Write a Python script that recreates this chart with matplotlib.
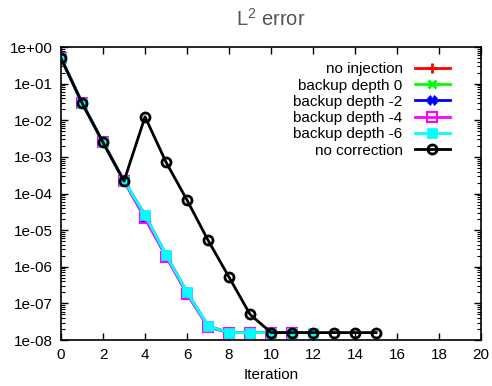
import numpy as np
import matplotlib
matplotlib.use("Agg")
import matplotlib.pyplot as plt
from matplotlib.ticker import LogLocator, FuncFormatter, MultipleLocator

plt.rcParams["font.family"] = ["Liberation Sans", "DejaVu Sans"]
plt.rcParams["mathtext.fontset"] = "custom"
plt.rcParams["mathtext.rm"] = "Liberation Sans"

# iterations and L2 error per run
it_corr = np.arange(0, 13)
no_injection = [5e-1, 3e-2, 2.5e-3, 2.2e-4, 2.6e-5, 2.1e-6, 2.0e-7, 2.4e-8, 1.6e-8, 1.6e-8, 1.6e-8, 1.6e-8, 1.6e-8]
backup_0 = [5e-1, 3e-2, 2.5e-3, 2.2e-4, 2.6e-5, 2.1e-6, 2.0e-7, 2.4e-8, 1.6e-8, 1.6e-8, 1.6e-8, 1.6e-8, 1.6e-8]
backup_m2 = [5e-1, 3e-2, 2.5e-3, 2.2e-4, 2.2e-5, 2.0e-6, 1.9e-7, 2.3e-8, 1.6e-8, 1.6e-8, 1.6e-8, 1.6e-8, 1.6e-8]
it_m4 = np.arange(0, 12)
backup_m4 = [5e-1, 3e-2, 2.5e-3, 2.2e-4, 2.1e-5, 1.9e-6, 1.8e-7, 2.3e-8, 1.6e-8, 1.6e-8, 1.6e-8, 1.6e-8]
backup_m6 = [5e-1, 3e-2, 2.5e-3, 2.2e-4, 2.6e-5, 2.1e-6, 2.0e-7, 2.4e-8, 1.6e-8, 1.6e-8, 1.6e-8, 1.6e-8, 1.6e-8]
it_none = np.arange(0, 16)
no_correction = [5e-1, 3e-2, 2.5e-3, 2.2e-4, 1.25e-2, 7.2e-4, 6.6e-5, 5.3e-6, 5.2e-7, 5e-8,
                 1.6e-8, 1.6e-8, 1.6e-8, 1.6e-8, 1.6e-8, 1.6e-8]

fig = plt.figure(figsize=(4.92, 3.86), dpi=100)
ax = fig.add_axes([0.124, 0.119, 0.854, 0.759])

lw = 2
ax.plot(it_corr, no_injection, color="#ff0000", lw=lw, marker="+", ms=7, mew=2, label="no injection")
ax.plot(it_corr, backup_0, color="#00ff00", lw=lw, marker="x", ms=6, mew=2, label="backup depth 0")
ax.plot(it_corr, backup_m2, color="#0000ff", lw=lw, marker="X", ms=7, mew=0.5, label="backup depth -2")
ax.plot(it_m4, backup_m4, color="#ff00ff", lw=lw, marker="s", ms=7.5, mew=1.5, mfc="none", label="backup depth -4")
ax.plot(it_corr, backup_m6, color="#00ffff", lw=lw, marker="s", ms=7, mew=0.5, label="backup depth -6")
ax.plot(it_none, no_correction, color="black", lw=lw, marker="o", ms=6.5, mew=2, mfc="none", label="no correction")

ax.set_yscale("log")
ax.set_xlim(0, 20)
ax.set_ylim(1e-8, 1)
ax.xaxis.set_major_locator(MultipleLocator(2))
ax.yaxis.set_major_locator(LogLocator(base=10, numticks=20))
ax.yaxis.set_minor_locator(LogLocator(base=10, subs=np.arange(2, 10), numticks=20))
ax.yaxis.set_major_formatter(FuncFormatter(lambda v, p: "%.0e" % v))
ax.tick_params(which="both", direction="in", top=True, right=True, labelsize=11)
ax.tick_params(which="major", length=5, width=1)
ax.tick_params(which="minor", length=3, width=0.8)
ax.tick_params(axis="both", pad=6)
for s in ax.spines.values():
    s.set_linewidth(1.2)

ax.set_xlabel("Iteration", fontsize=11, labelpad=4)
ax.set_title("L$^2$ error", fontsize=14.5, color="#555555", pad=15)

ax.legend(loc="upper right", frameon=False, markerfirst=False, fontsize=11,
          handlelength=2.3, labelspacing=0.15, borderaxespad=0.6, handletextpad=0.8,
          borderpad=0.2, bbox_to_anchor=(0.955, 0.99))

fig.savefig("out.png", dpi=100)
